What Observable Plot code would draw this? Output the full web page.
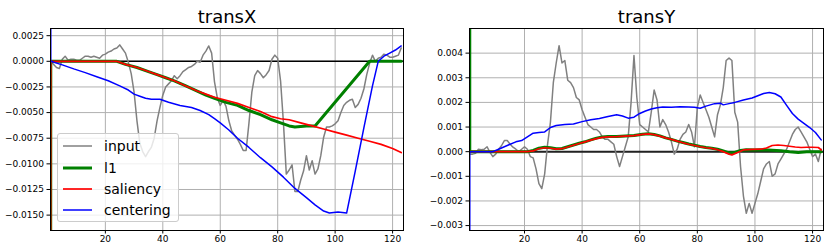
<!DOCTYPE html>
<html><head><meta charset="utf-8">
<script src="https://cdn.jsdelivr.net/npm/d3@7"></script>
<script src="https://cdn.jsdelivr.net/npm/@observablehq/plot@0.6"></script>
<style>
body{margin:0;background:#fff;font-family:"DejaVu Sans",sans-serif;}
#wrap{display:flex;width:831px;height:251px;overflow:hidden;}
.panel{position:relative;}
.legend{position:absolute;left:57px;top:133px;width:120px;height:87px;border:1px solid #cccccc;border-radius:3px;background:rgba(255,255,255,0.8);}
.row{position:absolute;left:0;height:20px;width:120px;}
.row svg{position:absolute;left:5px;top:0;}
.row span{position:absolute;left:46px;top:0;line-height:20px;font-size:14px;color:#000;white-space:nowrap;}
</style>
</head><body>
<div id="wrap"><div class="panel" id="p1"></div><div class="panel" id="p2"></div></div>
<script>
// ---------- data ----------
const titles = ["transX", "transY"];
const seriesNames = ["input", "l1", "saliency", "centering"];
const seriesColors = ["#808080", "#008000", "#ff0000", "#0000ff"];
const seriesWidths = [1.5, 3, 1.7, 1.5];
const xTicks = [20, 40, 60, 80, 100, 120];
const yTicksX = [-0.015, -0.0125, -0.01, -0.0075, -0.005, -0.0025, 0, 0.0025];
const yTicksY = [-0.003, -0.002, -0.001, 0, 0.001, 0.002, 0.003, 0.004];
const frames = d3.range(1, 124);

const transX_input = [0,-0.0003,-0.0006,-0.0007,0.0002,0.0005,0.0001,0.0002,0.0002,0.0001,
 0.0001,0.0003,0.0005,0.0005,0.0004,0.0005,0.0004,0.0003,0.0006,0.0007,
 0.0009,0.0010,0.0012,0.0013,0.0016,0.0012,0.0008,-0.0001,-0.0012,-0.0030,
 -0.0058,-0.0080,-0.0088,-0.0093,-0.0088,-0.0084,-0.0075,-0.0058,-0.0045,-0.0033,
 -0.0025,-0.0022,-0.0019,-0.0014,-0.0017,-0.0014,-0.0010,-0.0008,-0.0006,-0.0005,
 -0.0003,0.0000,-0.0001,0.0006,0.0010,0.0015,0.0008,-0.0020,-0.0036,-0.0043,
 -0.0038,-0.0044,-0.0058,-0.0068,-0.0072,-0.0076,-0.0081,-0.0087,-0.0087,-0.0060,
 -0.0030,-0.0014,-0.0009,-0.0012,-0.0016,-0.0013,-0.0009,0.0002,0.0006,0.0003,
 -0.0019,-0.0060,-0.0110,-0.0106,-0.0101,-0.0127,-0.0127,-0.0116,-0.0107,-0.0092,
 -0.0106,-0.0097,-0.0110,-0.0105,-0.0092,-0.0074,-0.0064,-0.0064,-0.0063,-0.0061,
 -0.0058,-0.0050,-0.0043,-0.0040,-0.0038,-0.0037,-0.0045,-0.0042,-0.0036,-0.0027,
 -0.0013,-0.0002,0.0006,0.0000,0.0003,0.0004,0.0007,0.0006,0.0004,0.0004,
 0.0005,0.0006,0.0013];

const transX_l1 = [[0,-0.5],[1,0],[24,0],[27,-0.0003],[31,-0.0006],[35,-0.0010],[38,-0.0013],
 [41,-0.0016],[44,-0.0019],[48,-0.0024],[52,-0.0029],[55,-0.0033],[58,-0.0036],[62,-0.0040],
 [66,-0.0043],[70,-0.0048],[74,-0.0052],[78,-0.0057],[81,-0.0060],[84,-0.0063],[86,-0.0064],
 [90,-0.0063],[93,-0.0063],[112,0],[123,0]];

const transX_saliency = [[0,-0.5],[1,0],[24,0],[27,-0.0003],[31,-0.0006],[35,-0.0010],[38,-0.0013],
 [41,-0.0016],[44,-0.0019],[48,-0.0024],[52,-0.0029],[55,-0.0032],[58,-0.0035],[62,-0.0038],
 [66,-0.0041],[70,-0.0045],[74,-0.0049],[78,-0.0054],[81,-0.0056],[84,-0.0057],[88,-0.0060],
 [92,-0.0063],[96,-0.0066],[100,-0.0069],[104,-0.0072],[108,-0.0075],[112,-0.0078],
 [116,-0.0081],[120,-0.0085],[123,-0.0089]];

const transX_centering = [[0,0.5],[1,0],[5,-0.00035],[9,-0.00074],[13,-0.0011],[17,-0.0015],
 [21,-0.0019],[25,-0.0024],[28,-0.0028],[30,-0.0032],[32,-0.0034],[34,-0.0036],[36,-0.0037],
 [39,-0.0037],[42,-0.0040],[46,-0.0043],[50,-0.0045],[53,-0.0048],[56,-0.0052],[58,-0.0056],
 [60,-0.0060],[63,-0.0067],[66,-0.0075],[70,-0.0084],[74,-0.0094],[78,-0.0103],[82,-0.0113],
 [86,-0.0124],[90,-0.0133],[93,-0.0140],[96,-0.0146],[98,-0.0148],[101,-0.0147],[104,-0.0148],
 [107,-0.0107],[110,-0.0065],[113,-0.0024],[115,0],[117,0.0005],[119,0.0008],[121,0.0011],[123,0.0015]];

const transY_input = [-0.0001,-0.0001,-0.00007,0.0001,0.00008,0.0001,0.0002,-0.00003,-0.0002,-0.0001,
 0.0001,0.00024,0.00045,0.00045,0.0003,0.00018,0.0001,0.0,0.0001,0.0002,
 0.0001,-0.0002,-0.00025,-0.0007,-0.0013,-0.0015,-0.0009,0.0003,0.0012,0.0028,
 0.0036,0.0043,0.0036,0.0037,0.0029,0.0028,0.0026,0.0022,0.0021,0.0017,
 0.0014,0.0011,0.0010,0.0009,0.0009,0.0008,0.0006,0.0005,0.0005,0.0004,
 0.0003,-0.0002,-0.0006,-0.0002,0.0002,0.0006,0.0020,0.0039,0.0022,0.0011,
 0.0010,0.0009,0.0008,0.0016,0.0025,0.0021,0.0010,0.0013,0.0011,0.0008,
 0.0004,-0.0001,0.0001,0.0005,0.0007,0.0008,0.0011,0.0008,0.0002,0.0018,
 0.0023,0.0020,0.0017,0.0014,0.0010,0.0006,0.0015,0.0019,0.0026,0.0037,
 0.0038,0.0037,0.0016,0.0012,-0.0006,-0.0018,-0.0025,-0.0021,-0.0025,-0.0021,
 -0.0017,-0.0012,-0.0007,-0.0005,-0.0004,-0.0010,-0.0009,-0.0005,-0.0003,-0.0001,
 0.0001,0.0004,0.0007,0.0009,0.0010,0.0008,0.0006,0.0004,0.0001,-0.0002,
 -0.0001,-0.0004,0.0001];

const transY_l1 = [[0,0.5],[1,0],[21,0],[23,0.00005],[25,0.00014],[27,0.00018],[29,0.00016],
 [31,0.00012],[33,0.00013],[35,0.0002],[37,0.00027],[39,0.00034],[41,0.0004],[43,0.00048],
 [45,0.00055],[47,0.0006],[49,0.00062],[52,0.00062],[55,0.00064],[58,0.00066],[61,0.00071],
 [63,0.00073],[65,0.0007],[67,0.00064],[69,0.00056],[71,0.0005],[73,0.00043],[75,0.00037],
 [77,0.00031],[79,0.00026],[81,0.00021],[83,0.00017],[85,0.00014],[87,0.0001],[89,0.00003],
 [91,-0.00005],[93,-0.00003],[95,0.00005],[97,0.00008],[100,0.00007],[103,0.00008],
 [106,0.00006],[109,0.00004],[112,0],[115,-0.00003],[118,0],[121,0],[123,0]];

const transY_saliency = [[1,0],[21,0],[23,0.00003],[25,0.00012],[27,0.00016],[29,0.00014],
 [31,0.0001],[33,0.00012],[35,0.00019],[37,0.00026],[39,0.00033],[41,0.0004],[43,0.00047],
 [45,0.00053],[47,0.00058],[49,0.0006],[52,0.00061],[55,0.00063],[58,0.00065],[61,0.0007],
 [63,0.00072],[65,0.00069],[67,0.00063],[69,0.00056],[71,0.0005],[73,0.00043],[75,0.00036],
 [77,0.0003],[79,0.00025],[81,0.0002],[83,0.00016],[85,0.00013],[87,0.00008],[89,0],
 [91,-0.0001],[92,-0.00013],[94,-0.00003],[96,0.00007],[99,0.00009],[102,0.0001],[104,0.00015],
 [106,0.00025],[108,0.00027],[110,0.00025],[112,0.00022],[114,0.00019],[116,0.00017],
 [118,0.00018],[120,0.00018],[122,0.00017],[123,0.00007]];

const transY_centering = [[0,-0.5],[1,0],[3,0],[5,0],[7,0],[9,0],[11,0.0001],[13,0.0002],
 [15,0.0003],[17,0.0004],[19,0.00045],[21,0.0006],[23,0.00075],[25,0.00078],[27,0.0008],
 [29,0.00098],[31,0.00106],[34,0.0011],[37,0.00112],[40,0.00122],[43,0.0013],[46,0.00135],
 [49,0.00143],[52,0.0015],[54,0.00145],[56,0.00136],[58,0.0014],[60,0.00155],[62,0.00165],
 [64,0.00173],[66,0.00178],[68,0.00181],[71,0.0018],[74,0.00182],[77,0.00181],[79,0.0018],
 [81,0.00176],[83,0.00185],[86,0.00195],[88,0.00197],[89,0.0019],[91,0.00195],[93,0.002],
 [96,0.0021],[99,0.00218],[101,0.00227],[103,0.00236],[105,0.0024],[107,0.00235],[109,0.00222],
 [111,0.00188],[113,0.00155],[115,0.00132],[117,0.00115],[119,0.00098],[121,0.00078],[123,0.00048]];

// ---------- chart ----------
function panel(opts) {
  const inputPairs = frames.map((f, i) => [f, opts.input[i]]);
  const sets = [inputPairs, opts.l1, opts.saliency, opts.centering];
  return Plot.plot({
    width: opts.width, height: 251,
    marginTop: 28, marginBottom: 21, marginLeft: opts.marginLeft, marginRight: opts.marginRight,
    style: {fontFamily: "DejaVu Sans", fontSize: "9px", color: "#000", background: "#fff"},
    x: {domain: [0.9, 123.8]},
    y: {domain: opts.yDomain},
    marks: [
      Plot.gridX(xTicks, {stroke: "#b0b0b0", strokeOpacity: 1, strokeWidth: 1}),
      Plot.gridY(opts.yTicks, {stroke: "#b0b0b0", strokeOpacity: 1, strokeWidth: 1}),
      Plot.ruleY([0], {stroke: opts.zeroColor, strokeWidth: opts.zeroWidth}),
      ...sets.map((s, i) => Plot.line(s, {x: d => d[0], y: d => d[1], stroke: seriesColors[i],
        strokeWidth: seriesWidths[i], clip: true})),
      Plot.frame({stroke: "#000", strokeWidth: 1}),
      Plot.axisX(xTicks, {tickSize: 3.5, tickPadding: 2, label: null, fontSize: 9}),
      Plot.axisY(opts.yTicks, {tickSize: 3.5, tickPadding: 3, label: null, tickFormat: opts.fmt, fontSize: 9}),
      Plot.text([opts.title], {frameAnchor: "top", dy: -6, lineAnchor: "bottom", fontSize: 18, fill: "#000"})
    ]
  });
}

const p1 = panel({title: titles[0], width: 415, marginLeft: 50, marginRight: 12,
  yDomain: [-0.0165, 0.0032], yTicks: yTicksX, fmt: d3.format(".4f"), zeroColor: "#000", zeroWidth: 1.6,
  input: transX_input, l1: transX_l1, saliency: transX_saliency, centering: transX_centering});
const p2 = panel({title: titles[1], width: 416, marginLeft: 54, marginRight: 8,
  yDomain: [-0.0032, 0.0050], yTicks: yTicksY, fmt: d3.format(".3f"), zeroColor: "#222", zeroWidth: 2,
  input: transY_input, l1: transY_l1, saliency: transY_saliency, centering: transY_centering});
document.getElementById("p1").appendChild(p1);
document.getElementById("p2").appendChild(p2);

// legend (left panel)
const leg = document.createElement("div");
leg.className = "legend";
const rowTops = [2, 24, 45, 66];
seriesNames.forEach((n, i) => {
  const r = document.createElement("div");
  r.className = "row";
  r.style.top = rowTops[i] + "px";
  r.innerHTML = `<svg width="30" height="20"><line x1="0" x2="29" y1="10" y2="10" stroke="${seriesColors[i]}" stroke-width="${seriesWidths[i]}"/></svg><span>${n}</span>`;
  leg.appendChild(r);
});
document.getElementById("p1").appendChild(leg);
</script>
</body></html>
